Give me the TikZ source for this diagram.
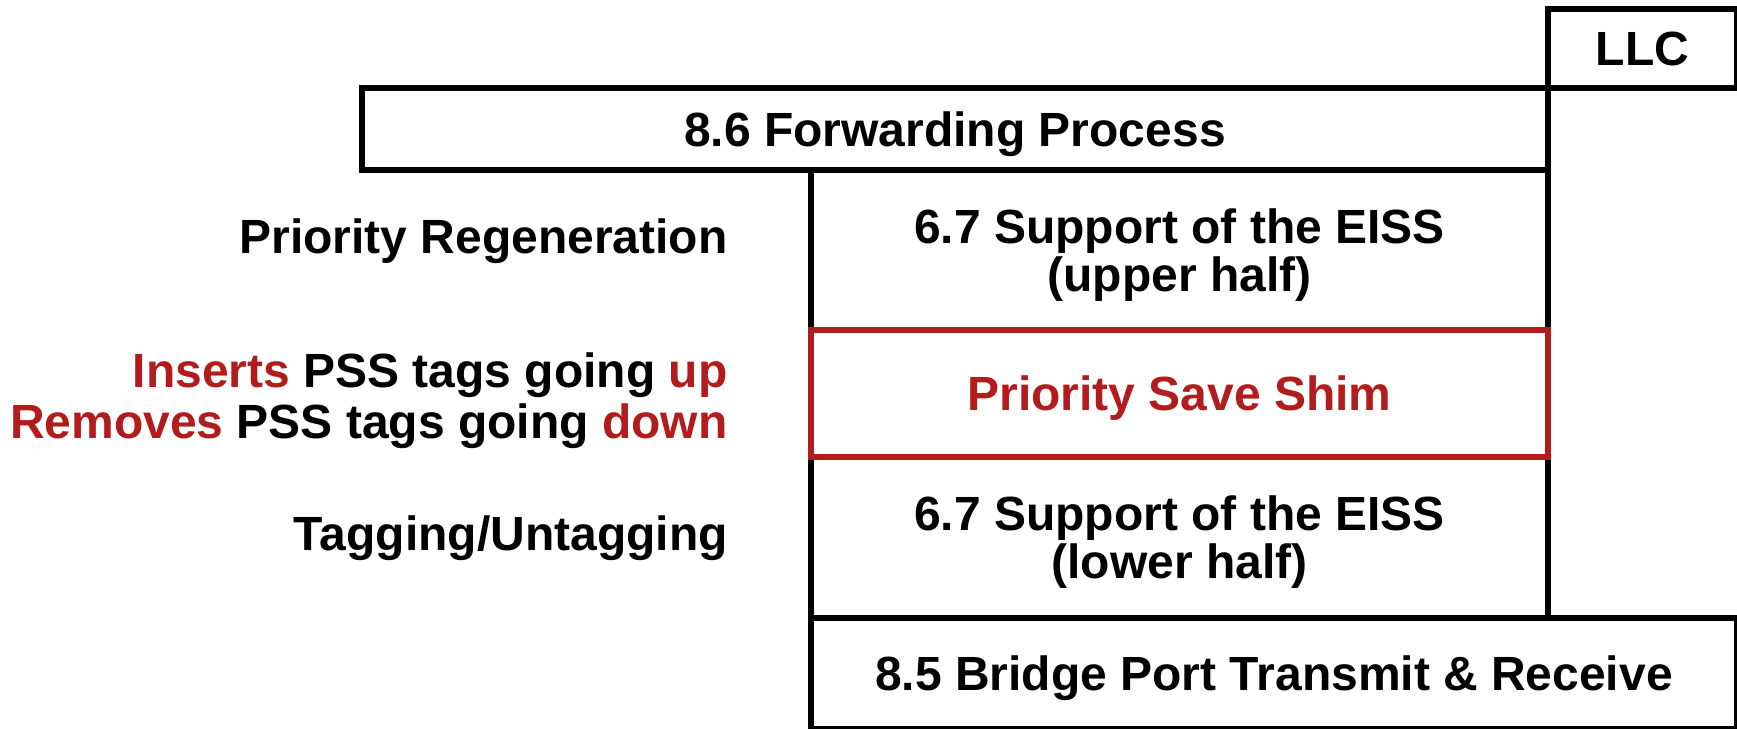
\documentclass[tikz,border=0pt]{standalone}
\usepackage{fontspec}
\setmainfont{Liberation Sans}
\definecolor{shimred}{RGB}{178,28,28}

\begin{document}
\begin{tikzpicture}[x=0.5pt,y=-0.5pt,
    layer/.style 2 args={draw,line width=3pt,inner sep=0pt,align=center,
      minimum width=#1,minimum height=#2,text depth=0pt,
      font=\bfseries\fontsize{24}{24}\selectfont},
    note/.style={inner sep=0pt,align=right,
      font=\bfseries\fontsize{24}{24}\selectfont}]
  \useasboundingbox (0,0) rectangle (1737,729);

  \node[layer={94.5pt}{39.5pt}] (llc) at (1642.5,48.5) {LLC};
  \node[layer={593pt}{41pt}] (fwd) at (955,129) {8.6 Forwarding Process};
  \node[layer={368.5pt}{80pt}] (eissup) at (1179.5,250) {6.7 Support of the EISS\\(upper half)};
  \node[layer={368.5pt}{80.5pt}] (eisslow) at (1179.5,537.5) {6.7 Support of the EISS\\(lower half)};
  \node[layer={463pt}{55.5pt}] (port) at (1274,673.5) {8.5 Bridge Port Transmit \& Receive};
  % shim goes on top so its red edges cover the black ones
  \node[layer={368.5pt}{63.5pt},draw=shimred,text=shimred] (pss) at (1179.5,393.5) {Priority Save Shim};

  \draw[line width=3pt] (llc.south east) -- (port.north east);

  \node[note,anchor=base east] (regen) at (728,253) {Priority Regeneration};
  \node[note,anchor=base east] (ins) at (728,387)
    {\textcolor{shimred}{Inserts} PSS tags going \textcolor{shimred}{up}};
  \node[note,anchor=base east] (rem) at (728,438)
    {\textcolor{shimred}{Removes} PSS tags going \textcolor{shimred}{down}};
  \node[note,anchor=base east] (tag) at (728,550) {Tagging/Untagging};
\end{tikzpicture}
\end{document}
